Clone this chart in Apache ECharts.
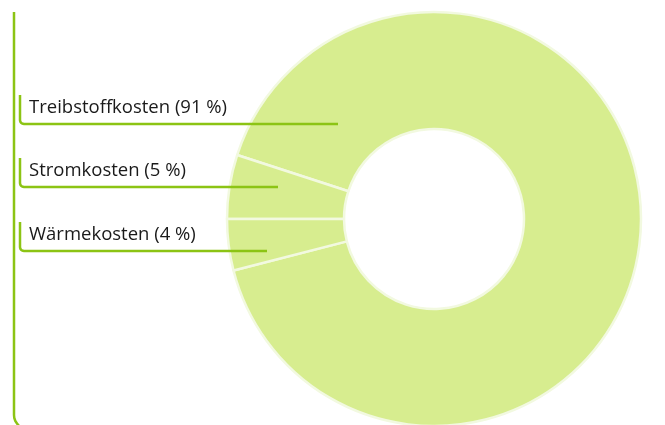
<!DOCTYPE html>
<html>
  <head>
    <meta charset="utf-8" />
    <script src="https://cdn.jsdelivr.net/npm/echarts@6/dist/echarts.min.js"></script>
    <style>
      html, body { margin: 0; padding: 0; background: #fff; }
      #main { width: 665px; height: 425px; }
    </style>
  </head>

  <body>
    <div id="main"></div>
    <script type="text/javascript">
      // Kostenanteile in Prozent
      const categories = ['Treibstoffkosten', 'Stromkosten', 'Wärmekosten'];
      const shares = [91, 5, 4];

      const lineGreen = '#8cc414';
      const fillGreen = '#d7ed8f';

      // where each leader line ends inside the ring (x) and the y of the underline
      const leaderEndX = [338, 278, 267];
      const underlineY = [124, 187, 251];

      var myChart = echarts.init(document.getElementById('main'));

      // last slice ends at 9 o'clock, so start that far below it and go counterclockwise
      const total = shares.reduce((a, b) => a + b, 0);
      const startAngle = 180 + 360 * shares[shares.length - 1] / total;
      const pieData = categories.map((name, i) => ({ name: name, value: shares[i] }));

      function bracket(endX, y) {
        // horizontal line under the label, rounded corner, short riser at the left
        const x0 = 20, r = 4, top = y - 29;
        const pts = [[endX, y], [x0 + r, y]];
        for (let i = 1; i <= 6; i++) {
          const a = Math.PI / 2 + (i / 6) * Math.PI / 2;
          pts.push([x0 + r + r * Math.cos(a), y - r + r * Math.sin(a)]);
        }
        pts.push([x0, top]);
        return pts;
      }

      var option = {
        animation: false,
        graphic: [
          {
            type: 'polyline',
            shape: {
              points: [[14, 12], [14, 415], [14.3, 418], [15.3, 421], [17, 423.5], [19, 426]]
            },
            style: { stroke: lineGreen, lineWidth: 2.5, fill: null }
          }
        ],
        series: [
          {
            // the ring itself
            type: 'pie',
            z: 1,
            center: [434, 219],
            radius: [90, 207],
            startAngle: startAngle,
            clockwise: false,
            silent: true,
            itemStyle: {
              color: fillGreen,
              borderColor: '#f2f9e0',
              borderWidth: 2.5
            },
            label: { show: false },
            labelLine: { show: false },
            data: pieData
          },
          {
            // same slices, invisible, only for labels so the leaders sit on top of the ring
            type: 'pie',
            z: 5,
            center: [434, 219],
            radius: [90, 207],
            startAngle: startAngle,
            clockwise: false,
            silent: true,
            avoidLabelOverlap: false,
            itemStyle: { color: 'rgba(0,0,0,0)' },
            label: {
              show: true,
              position: 'outside',
              formatter: p => p.name + ' (' + p.value + ' %)',
              fontFamily: 'Open Sans',
              fontSize: 18.5,
              color: '#1a1a1a',
              lineHeight: 22
            },
            labelLine: {
              show: true,
              lineStyle: { color: lineGreen, width: 2.5 }
            },
            labelLayout: function (params) {
              const i = params.dataIndex;
              return {
                x: 29,
                y: underlineY[i] - 16,
                align: 'left',
                verticalAlign: 'middle',
                labelLinePoints: bracket(leaderEndX[i], underlineY[i])
              };
            },
            data: pieData
          }
        ]
      };

      myChart.setOption(option);
    </script>
  </body>

</html>
